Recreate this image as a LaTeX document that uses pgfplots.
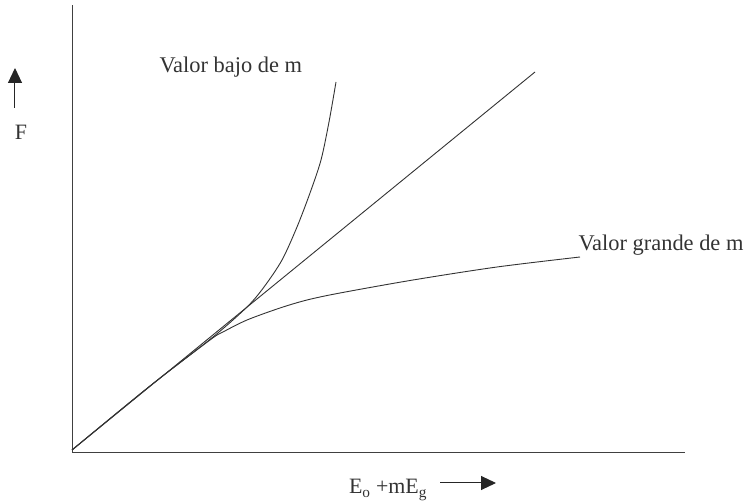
\documentclass[border=0pt]{standalone}
\usepackage{fontspec}
\setmainfont{Liberation Serif}
\usepackage{pgfplots}
\pgfplotsset{compat=1.18}
\usetikzlibrary{arrows.meta}
\begin{document}
\begin{tikzpicture}[x=1bp,y=1bp]
\begin{axis}[
  scale only axis, width=613bp, height=447bp,
  xmin=0, xmax=613, ymin=0, ymax=447,
  axis lines=left, axis line style={-, black!75, line width=0.9bp},
  xtick=\empty, ytick=\empty, clip=false,
  curve/.style={black!80, line width=0.9bp, mark=none}
]
\path (axis cs:-72,-49) rectangle (axis cs:678,452);
% straight line
\addplot[curve] coordinates {(0,2) (463,380)};
% low m
\addplot[curve, smooth] coordinates {(0,2) (78,66) (141,115) (175,145) (192,165) (210,192) (225,225) (238,259) (249,292) (257,330) (264,370)};
% high m
\addplot[curve, smooth] coordinates {(0,2) (78,66) (138,112) (151,120) (175,132) (208,144) (235,152) (268,159) (341,172) (425,185) (508,195)};
\node[anchor=west, font=\fontsize{22.5}{25}\selectfont, black!80] at (axis cs:84,385) {Valor bajo de m};
\node[anchor=west, font=\fontsize{22.5}{25}\selectfont, black!80] at (axis cs:503,207) {Valor grande de m};
\node[font=\fontsize{22}{25}\selectfont, black!80] at (axis cs:-51,320) {F};
\draw[-{Triangle[length=15bp,width=14bp]}, line width=1bp, black!85] (axis cs:-57,344) -- (axis cs:-57,384);
\node[font=\fontsize{22}{25}\selectfont, black!80] at (axis cs:316,-38) {E\textsubscript{o} +mE\textsubscript{g}};
\draw[-{Triangle[length=15bp,width=14bp]}, line width=1bp, black!85] (axis cs:368,-31) -- (axis cs:424,-31);
\end{axis}
\end{tikzpicture}
\end{document}
